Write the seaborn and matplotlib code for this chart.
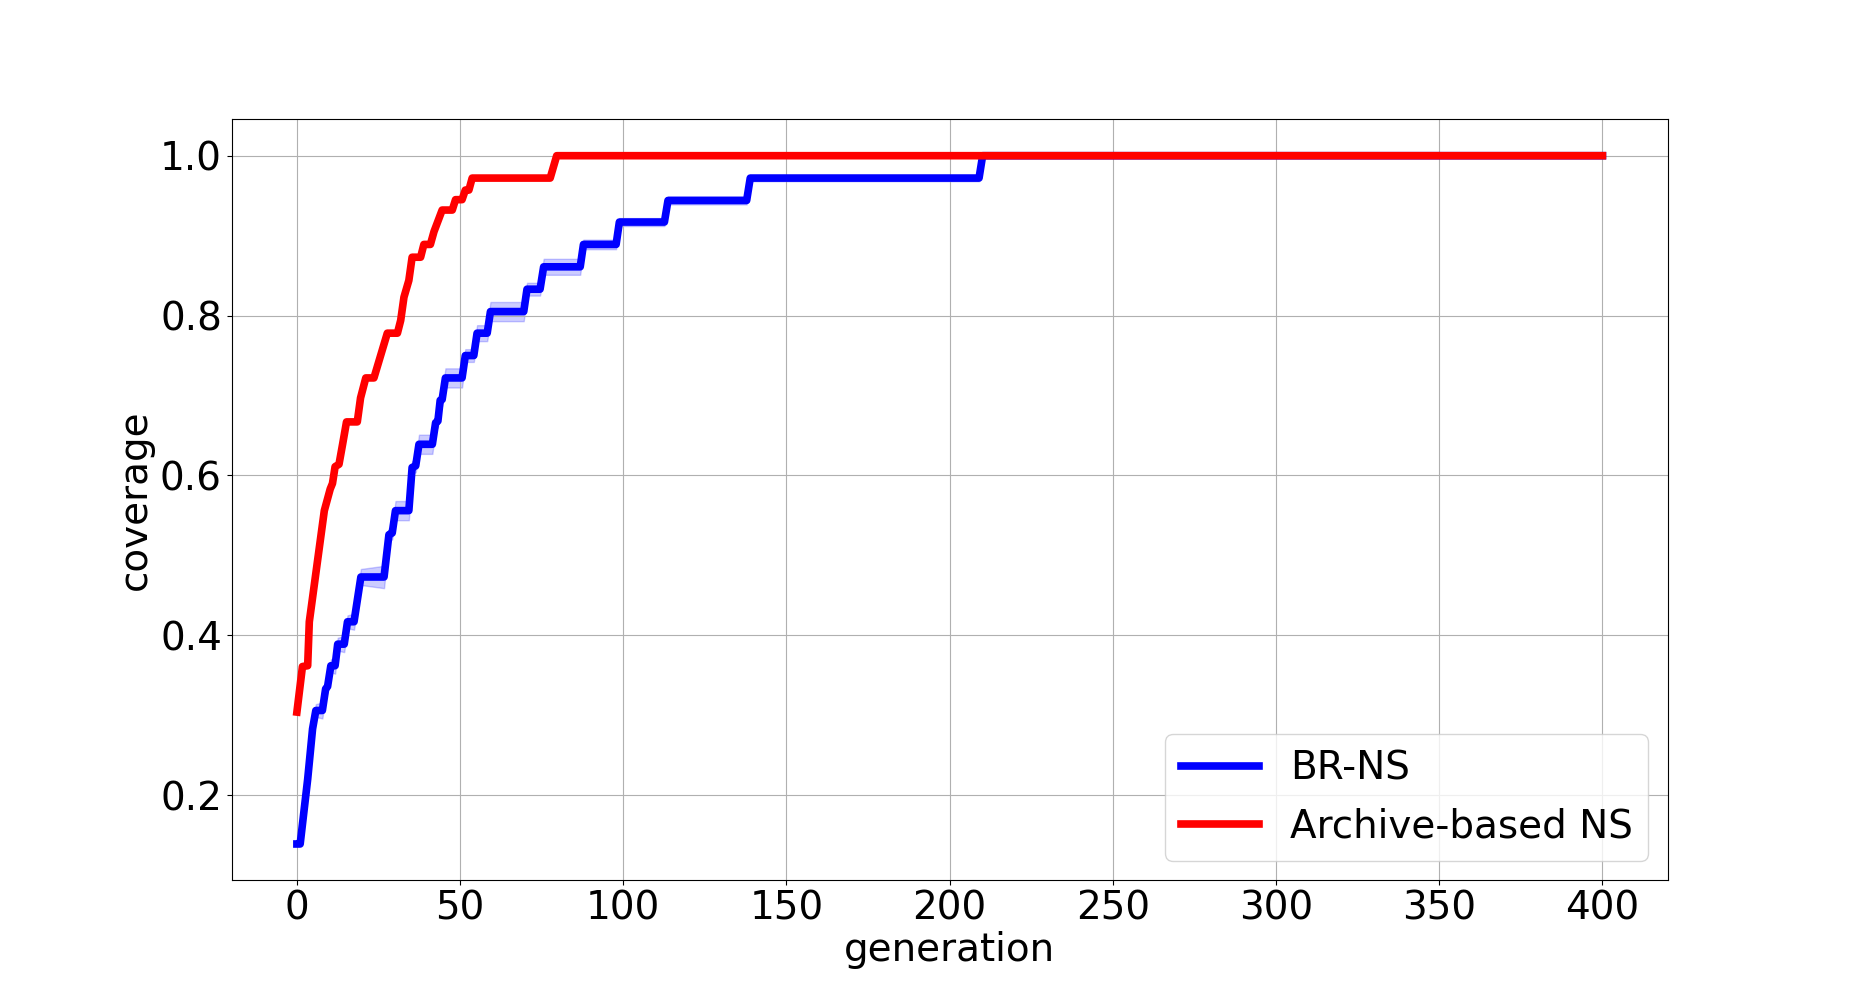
import numpy as np
import pandas as pd
import seaborn as sns
import matplotlib
matplotlib.use("Agg")
import matplotlib.pyplot as plt

# BR-NS mean coverage (breakpoints)
brns_gen = [0, 1, 3.3, 4.8, 5.8, 7.8, 8.8, 9.4, 10.4, 11.7, 12.5, 14.5, 15.5, 17.5,
            19.6, 26.7, 28.2, 29.2, 30.2, 34.3, 35.3, 36.4, 37.4, 41.5, 42.5, 43.2,
            43.9, 44.5, 45.5, 50.6, 51.6, 54.2, 55.2, 58.3, 59.3, 69.5, 70.5, 74.5,
            75.6, 86.8, 87.8, 97.8, 98.8, 112.6, 113.7, 137.8, 138.9, 209, 210.1, 400]
brns_cov = [0.139, 0.139, 0.22, 0.283, 0.306, 0.306, 0.333, 0.336, 0.362, 0.362,
            0.389, 0.389, 0.417, 0.417, 0.473, 0.473, 0.526, 0.528, 0.556, 0.556,
            0.61, 0.612, 0.639, 0.639, 0.666, 0.668, 0.694, 0.695, 0.722, 0.722,
            0.75, 0.75, 0.778, 0.778, 0.805, 0.805, 0.833, 0.833, 0.861, 0.861,
            0.889, 0.889, 0.917, 0.917, 0.944, 0.944, 0.972, 0.972, 1.0, 1.0]
# spread of BR-NS runs around the mean
brns_err = [0.002, 0.002, 0.004, 0.006, 0.008, 0.010, 0.008, 0.008, 0.008, 0.010,
            0.008, 0.010, 0.008, 0.010, 0.010, 0.014, 0.008, 0.008, 0.012, 0.012,
            0.008, 0.008, 0.012, 0.012, 0.008, 0.008, 0.008, 0.008, 0.012, 0.012,
            0.008, 0.008, 0.010, 0.010, 0.012, 0.012, 0.008, 0.008, 0.010, 0.010,
            0.006, 0.006, 0.005, 0.005, 0.005, 0.005, 0.004, 0.004, 0.003, 0.003]

# Archive-based NS mean coverage
arch_gen = [0, 1.7, 3.3, 3.8, 8.4, 10.2, 10.9, 11.7, 12.9, 14, 15.2, 18.5, 19.5,
            21.1, 23.6, 27.7, 30.8, 31.8, 32.8, 34.3, 35.3, 37.9, 38.9, 40.9, 42,
            44.5, 47.6, 48.6, 50.6, 51.6, 52.7, 53.7, 77.6, 79.6, 400]
arch_cov = [0.304, 0.361, 0.362, 0.417, 0.556, 0.583, 0.59, 0.611, 0.614, 0.639,
            0.667, 0.667, 0.697, 0.722, 0.722, 0.778, 0.778, 0.794, 0.823, 0.844,
            0.873, 0.873, 0.889, 0.889, 0.905, 0.932, 0.932, 0.945, 0.945, 0.957,
            0.957, 0.972, 0.972, 1.0, 1.0]

brns = pd.DataFrame({"generation": brns_gen, "coverage": brns_cov, "err": brns_err})
arch = pd.DataFrame({"generation": arch_gen, "coverage": arch_cov})

fig, ax = plt.subplots(figsize=(18.53, 9.89), dpi=100)

ax.fill_between(brns["generation"], brns["coverage"] - brns["err"],
                brns["coverage"] + brns["err"], color="blue", alpha=0.2)
sns.lineplot(data=brns, x="generation", y="coverage", color="blue", linewidth=5.5,
             label="BR-NS", estimator=None, ax=ax)
sns.lineplot(data=arch, x="generation", y="coverage", color="red", linewidth=5.5,
             label="Archive-based NS", estimator=None, ax=ax)

ax.grid(True)
ax.set_xlabel("generation", fontsize=28, labelpad=2)
ax.set_ylabel("coverage", fontsize=28)
ax.tick_params(labelsize=28)
ax.set_yticks([0.2, 0.4, 0.6, 0.8, 1.0])
ax.legend(loc="lower right", fontsize=28, handlelength=2.0)

plt.savefig("out.png", dpi=100)
